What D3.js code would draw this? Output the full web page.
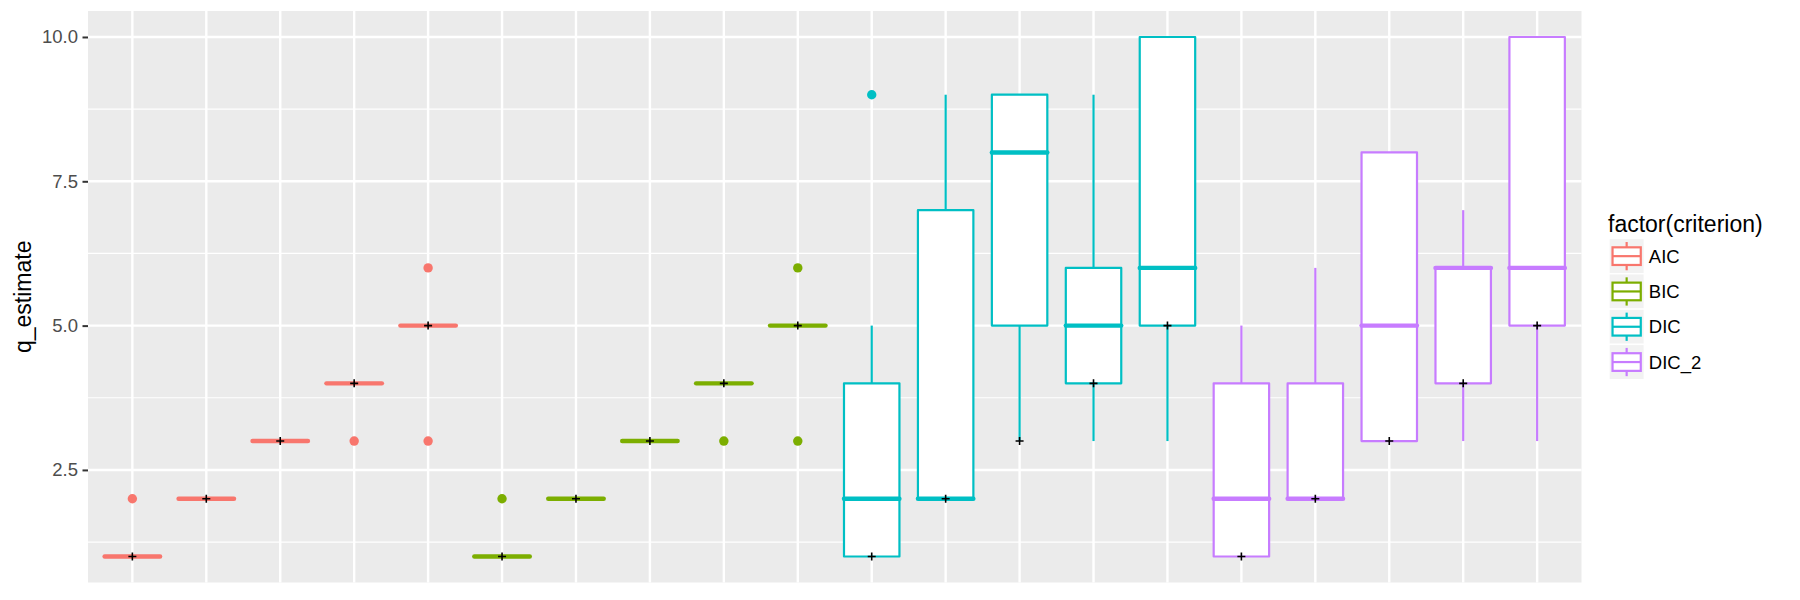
<!DOCTYPE html>
<html>
<head>
<meta charset="utf-8">
<script src="https://cdn.jsdelivr.net/npm/d3@7"></script>
<style>
  body { margin: 0; background: #ffffff; }
  svg { display: block; font-family: "Liberation Sans", Arial, Helvetica, sans-serif; }
  .tick text { fill: #4D4D4D; font-size: 18.5px; }
  .tick line { stroke: #333333; stroke-width: 2; }
  .domain { display: none; }
</style>
</head>
<body>
<div id="chart"></div>
<script>
// the data, one entry per box
var criterion = ["AIC", "AIC", "AIC", "AIC", "AIC",
                 "BIC", "BIC", "BIC", "BIC", "BIC",
                 "DIC", "DIC", "DIC", "DIC", "DIC",
                 "DIC_2", "DIC_2", "DIC_2", "DIC_2", "DIC_2"];
var trueQ     = [1, 2, 3, 4, 5,  1, 2, 3, 4, 5,  1, 2, 3, 4, 5,  1, 2, 3, 4, 5];
var whiskLow  = [1, 2, 3, 4, 5,  1, 2, 3, 4, 5,  1, 2, 3, 3, 3,  1, 2, 3, 3, 3];
var q1        = [1, 2, 3, 4, 5,  1, 2, 3, 4, 5,  1, 2, 5, 4, 5,  1, 2, 3, 4, 5];
var median    = [1, 2, 3, 4, 5,  1, 2, 3, 4, 5,  2, 2, 8, 5, 6,  2, 2, 5, 6, 6];
var q3        = [1, 2, 3, 4, 5,  1, 2, 3, 4, 5,  4, 7, 9, 6, 10, 4, 4, 8, 6, 10];
var whiskHigh = [1, 2, 3, 4, 5,  1, 2, 3, 4, 5,  5, 9, 9, 9, 10, 5, 6, 8, 7, 10];
var outliers  = [[2], [], [], [3], [6, 3],
                 [2], [], [], [3], [6, 3],
                 [9], [], [], [], [],
                 [], [], [], [], []];

var levels = ["AIC", "BIC", "DIC", "DIC_2"];
var colours = ["#F8766D", "#7CAE00", "#00BFC4", "#C77CFF"];
var yTicks = [2.5, 5, 7.5, 10];
var yMinor = [1.25, 3.75, 6.25, 8.75];

var width = 1800, height = 600;
var panel = {left: 88, right: 1581.5, top: 11, bottom: 582.5};

var boxes = criterion.map(function(c, i) {
    return {id: i, crit: c, q: trueQ[i], lo: whiskLow[i], q1: q1[i], med: median[i],
            q3: q3[i], hi: whiskHigh[i], out: outliers[i]};
});

var colour = d3.scaleOrdinal().domain(levels).range(colours);

// x is discrete, ggplot keeps 0.6 of a step on each side
var x = d3.scalePoint()
    .domain(boxes.map(function(d) { return d.id; }))
    .range([panel.left, panel.right])
    .padding(0.6);
var step = x.step();
var boxW = step * 0.75;

// y with the 5% expansion
var y = d3.scaleLinear()
    .domain([1 - 0.45, 10 + 0.45])
    .range([panel.bottom, panel.top]);

var svg = d3.select("#chart").append("svg")
    .attr("width", width)
    .attr("height", height);

svg.append("rect").attr("width", width).attr("height", height).attr("fill", "#ffffff");

// panel background and grid
svg.append("rect")
    .attr("x", panel.left).attr("y", panel.top)
    .attr("width", panel.right - panel.left).attr("height", panel.bottom - panel.top)
    .attr("fill", "#EBEBEB");

svg.append("g").selectAll("line").data(yMinor).enter().append("line")
    .attr("x1", panel.left).attr("x2", panel.right)
    .attr("y1", function(d) { return y(d); }).attr("y2", function(d) { return y(d); })
    .attr("stroke", "#ffffff").attr("stroke-width", 1.2);

svg.append("g").selectAll("line").data(yTicks).enter().append("line")
    .attr("x1", panel.left).attr("x2", panel.right)
    .attr("y1", function(d) { return y(d); }).attr("y2", function(d) { return y(d); })
    .attr("stroke", "#ffffff").attr("stroke-width", 2.4);

svg.append("g").selectAll("line").data(boxes).enter().append("line")
    .attr("x1", function(d) { return x(d.id); }).attr("x2", function(d) { return x(d.id); })
    .attr("y1", panel.top).attr("y2", panel.bottom)
    .attr("stroke", "#ffffff").attr("stroke-width", 2.4);

// y axis
var yAxis = d3.axisLeft(y)
    .tickValues(yTicks)
    .tickFormat(d3.format(".1f"))
    .tickSize(5.5)
    .tickPadding(4.5);

svg.append("g")
    .attr("transform", "translate(" + panel.left + ",0)")
    .call(yAxis);

svg.append("text")
    .attr("transform", "translate(31," + ((panel.top + panel.bottom) / 2) + ") rotate(-90)")
    .attr("text-anchor", "middle")
    .attr("font-size", 23)
    .attr("fill", "#000000")
    .text("q_estimate");

// the boxplots
var g = svg.append("g").selectAll("g").data(boxes).enter().append("g");

g.append("line") // upper whisker
    .attr("x1", function(d) { return x(d.id); }).attr("x2", function(d) { return x(d.id); })
    .attr("y1", function(d) { return y(d.q3); }).attr("y2", function(d) { return y(d.hi); })
    .attr("stroke", function(d) { return colour(d.crit); }).attr("stroke-width", 2.2);

g.append("line") // lower whisker
    .attr("x1", function(d) { return x(d.id); }).attr("x2", function(d) { return x(d.id); })
    .attr("y1", function(d) { return y(d.q1); }).attr("y2", function(d) { return y(d.lo); })
    .attr("stroke", function(d) { return colour(d.crit); }).attr("stroke-width", 2.2);

g.append("rect")
    .attr("x", function(d) { return x(d.id) - boxW / 2; })
    .attr("y", function(d) { return y(d.q3); })
    .attr("width", boxW)
    .attr("height", function(d) { return y(d.q1) - y(d.q3); })
    .attr("fill", "#ffffff")
    .attr("stroke", function(d) { return colour(d.crit); })
    .attr("stroke-width", 2.2)
    .attr("stroke-linejoin", "round");

g.append("line") // median
    .attr("x1", function(d) { return x(d.id) - boxW / 2; })
    .attr("x2", function(d) { return x(d.id) + boxW / 2; })
    .attr("y1", function(d) { return y(d.med); }).attr("y2", function(d) { return y(d.med); })
    .attr("stroke", function(d) { return colour(d.crit); })
    .attr("stroke-width", 4.4)
    .attr("stroke-linecap", "round");

g.selectAll("circle")
    .data(function(d) { return d.out.map(function(v) { return {id: d.id, crit: d.crit, v: v}; }); })
    .enter().append("circle")
    .attr("cx", function(d) { return x(d.id); })
    .attr("cy", function(d) { return y(d.v); })
    .attr("r", 4.7)
    .attr("fill", function(d) { return colour(d.crit); });

// true q as black plus signs
g.append("path")
    .attr("d", function(d) {
        var cx = x(d.id), cy = y(d.q);
        return "M" + (cx - 4) + "," + cy + "H" + (cx + 4) + "M" + cx + "," + (cy - 4) + "V" + (cy + 4);
    })
    .attr("stroke", "#000000")
    .attr("stroke-width", 1.6);

// legend
var legend = svg.append("g").attr("transform", "translate(1609,0)");

legend.append("text")
    .attr("x", -1).attr("y", 232)
    .attr("font-size", 23)
    .attr("fill", "#000000")
    .text("factor(criterion)");

var key = 35.3, keyTop = 238.5;
var item = legend.selectAll("g.item").data(levels).enter().append("g")
    .attr("class", "item")
    .attr("transform", function(d, i) { return "translate(0," + (keyTop + i * key) + ")"; });

item.append("rect")
    .attr("width", key).attr("height", key)
    .attr("fill", "#F2F2F2")
    .attr("stroke", "#ffffff").attr("stroke-width", 1.4);

item.append("line")
    .attr("x1", key / 2).attr("x2", key / 2)
    .attr("y1", key * 0.1).attr("y2", key * 0.9)
    .attr("stroke", function(d) { return colour(d); }).attr("stroke-width", 2.2);

item.append("rect")
    .attr("x", key * 0.1).attr("y", key * 0.25)
    .attr("width", key * 0.8).attr("height", key * 0.5)
    .attr("fill", "#ffffff")
    .attr("stroke", function(d) { return colour(d); }).attr("stroke-width", 2.2);

item.append("line")
    .attr("x1", key * 0.1).attr("x2", key * 0.9)
    .attr("y1", key / 2).attr("y2", key / 2)
    .attr("stroke", function(d) { return colour(d); }).attr("stroke-width", 2.2);

item.append("text")
    .attr("x", key + 4.5).attr("y", key / 2)
    .attr("dy", "0.36em")
    .attr("font-size", 18.5)
    .attr("fill", "#000000")
    .text(function(d) { return d; });
</script>
</body>
</html>
